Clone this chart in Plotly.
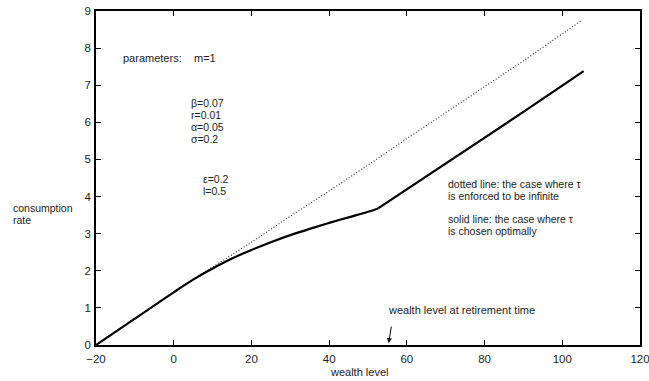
import plotly.graph_objects as go

# Data
dotted_x = [-20, -10, 0, 5, 10, 20, 30, 40, 50, 60, 70, 80, 90, 105]
dotted_y = [0, 0.71, 1.42, 1.77, 2.10, 2.77, 3.47, 4.15, 4.85, 5.56, 6.26, 6.96, 7.66, 8.75]

# optimal-tau consumption: before retirement wealth kink, and after
solid1_x = [-20, -10, 0, 5, 10, 15, 20, 25, 30, 35, 40, 45, 50, 52.6]
solid1_y = [0, 0.71, 1.42, 1.76, 2.06, 2.33, 2.56, 2.77, 2.96, 3.13, 3.29, 3.44, 3.59, 3.68]
solid2_x = [52.6, 60, 70, 80, 90, 105.5]
solid2_y = [3.68, 4.19, 4.89, 5.58, 6.28, 7.38]

x_ticks = [-20, 0, 20, 40, 60, 80, 100, 120]
y_ticks = [0, 1, 2, 3, 4, 5, 6, 7, 8, 9]

retire_x = 55.3

FONT = "Liberation Sans, Arial, Helvetica, sans-serif"
FS = 11
FS_STACK = 10.5
TFS = 11.5
TC = "#222222"

fig = go.Figure()
fig.add_trace(go.Scatter(x=dotted_x, y=dotted_y, mode="lines",
                         line=dict(color="#333333", width=1.2, dash="1px,2px", shape="spline"),
                         showlegend=False, hoverinfo="skip"))
fig.add_trace(go.Scatter(x=solid1_x, y=solid1_y, mode="lines",
                         line=dict(color="black", width=2.2, shape="spline"),
                         showlegend=False, hoverinfo="skip"))
fig.add_trace(go.Scatter(x=solid2_x, y=solid2_y, mode="lines",
                         line=dict(color="black", width=2.2),
                         showlegend=False, hoverinfo="skip"))

def txt(x, y, s, xref="x", yref="y", xanchor="left", size=FS):
    fig.add_annotation(x=x, y=y, xref=xref, yref=yref, text=s, showarrow=False,
                       xanchor=xanchor, yanchor="middle", borderpad=0,
                       font=dict(family=FONT, size=size, color=TC))

txt(-13.3, 7.73, "parameters:")
txt(4.9, 7.73, "m=1")
txt(4.2, 6.52, "β=0.07", size=FS_STACK)
txt(4.2, 6.196, "r=0.01", size=FS_STACK)
txt(4.2, 5.87, "α=0.05", size=FS_STACK)
txt(4.2, 5.547, "σ=0.2", size=FS_STACK)
txt(7.26, 4.47, "ε=0.2", size=FS_STACK)
txt(7.26, 4.146, "l=0.5", size=FS_STACK)
txt(70.3, 4.34, "dotted line: the case where τ", size=FS_STACK)
txt(70.3, 4.016, "is enforced to be infinite", size=FS_STACK)
txt(70.3, 3.40, "solid line: the case where τ", size=FS_STACK)
txt(70.3, 3.076, "is chosen optimally", size=FS_STACK)
txt(54.9, 0.94, "wealth level at retirement time")

# arrow to retirement wealth
fig.add_annotation(x=retire_x, y=0.05, xref="x", yref="y", text="",
                   showarrow=True, arrowhead=2, arrowsize=1, arrowwidth=1,
                   arrowcolor="black", ax=3, ay=-18)

txt(0.483, -0.081, "wealth level", xref="paper", yref="paper", xanchor="center")
txt(-0.154, 0.410, "consumption", xref="paper", yref="paper", size=FS_STACK)
txt(-0.154, 0.374, "rate", xref="paper", yref="paper", size=FS_STACK)

axis_common = dict(showgrid=False, zeroline=False, showline=True, linecolor="black",
                   linewidth=1.5, mirror="ticks", ticks="inside", ticklen=5,
                   tickcolor="black", tickwidth=1, automargin=False,
                   ticklabeloverflow="allow",
                   tickfont=dict(family=FONT, size=TFS, color=TC))

fig.update_layout(
    width=649, height=381,
    margin=dict(l=96, r=9, t=11, b=36),
    paper_bgcolor="white", plot_bgcolor="white",
    xaxis=dict(range=[-20, 120], tickvals=x_ticks, ticktext=["−20"] + [str(v) for v in x_ticks[1:]],
               ticklabelstandoff=2, **axis_common),
    yaxis=dict(range=[0, 9], tickvals=y_ticks, ticklabelstandoff=1, **axis_common),
)

fig.write_html("out.html")
